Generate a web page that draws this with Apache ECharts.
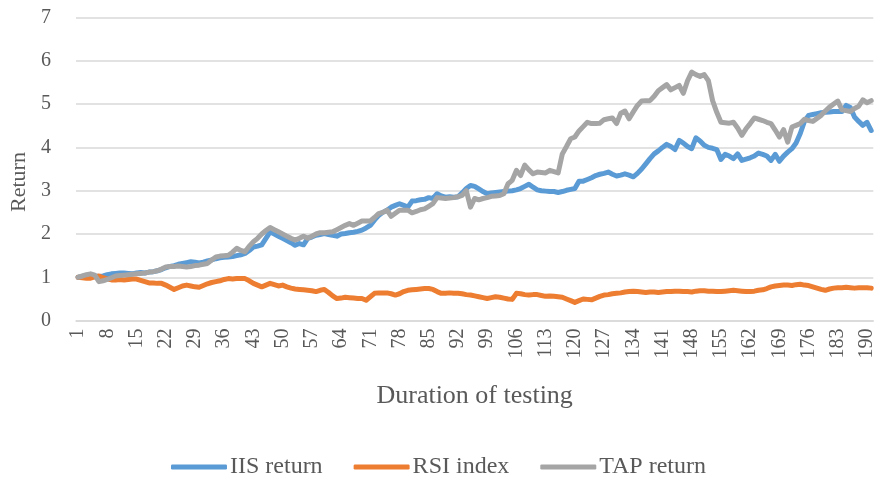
<!DOCTYPE html>
<html>
<head>
<meta charset="utf-8">
<script src="https://cdn.jsdelivr.net/npm/echarts@6/dist/echarts.min.js"></script>
<style>
  html, body { margin: 0; padding: 0; background: #fff; }
  #main { width: 877px; height: 482px; }
</style>
</head>
<body>
<div id="main"></div>
<script>
// 测试天数 1..191
const days = [];
for (let i = 1; i <= 191; i++) days.push(String(i));

const iisReturn = [
  1.00, 1.02, 1.04, 1.05, 1.03, 1.02, 1.03, 1.06, 1.08, 1.09,
  1.10, 1.10, 1.09, 1.08, 1.10, 1.11, 1.10, 1.12, 1.13, 1.15,
  1.18, 1.22, 1.25, 1.27, 1.30, 1.32, 1.34, 1.36, 1.35, 1.33,
  1.35, 1.38, 1.40, 1.43, 1.45, 1.46, 1.47, 1.48, 1.50, 1.52,
  1.55, 1.62, 1.70, 1.72, 1.75, 1.90, 2.05, 2.00, 1.95, 1.90,
  1.85, 1.80, 1.74, 1.78, 1.75, 1.90, 1.93, 1.97, 1.99, 2.01,
  1.99, 1.97, 1.95, 2.00, 2.01, 2.03, 2.04, 2.06, 2.09, 2.14,
  2.20, 2.32, 2.43, 2.50, 2.55, 2.62, 2.66, 2.70, 2.66, 2.62,
  2.76, 2.77, 2.79, 2.80, 2.84, 2.82, 2.93, 2.88, 2.85, 2.86,
  2.85, 2.86, 2.95, 3.05, 3.12, 3.10, 3.04, 2.98, 2.93, 2.95,
  2.96, 2.97, 2.98, 2.99, 3.00, 3.02, 3.05, 3.10, 3.15, 3.08,
  3.02, 3.00, 2.99, 2.98, 2.98, 2.96, 2.98, 3.01, 3.03, 3.05,
  3.22, 3.22, 3.26, 3.30, 3.35, 3.38, 3.40, 3.43, 3.38, 3.34,
  3.36, 3.39, 3.36, 3.32, 3.40, 3.50, 3.62, 3.74, 3.85, 3.92,
  4.00, 4.07, 4.02, 3.95, 4.16, 4.10, 4.02, 3.97, 4.22, 4.15,
  4.05, 4.00, 3.98, 3.95, 3.72, 3.84, 3.80, 3.74, 3.85, 3.70,
  3.73, 3.76, 3.80, 3.87, 3.84, 3.80, 3.70, 3.84, 3.68, 3.80,
  3.89, 3.97, 4.10, 4.32, 4.60, 4.74, 4.76, 4.78, 4.80, 4.81,
  4.82, 4.83, 4.83, 4.83, 4.97, 4.92, 4.70, 4.60, 4.51, 4.58, 4.39
];

const rsiIndex = [
  1.00, 0.99, 0.98, 0.98, 1.01, 1.03, 0.99, 0.96, 0.94, 0.94,
  0.95, 0.94, 0.95, 0.96, 0.96, 0.93, 0.90, 0.87, 0.87, 0.86,
  0.86, 0.82, 0.77, 0.72, 0.76, 0.80, 0.82, 0.80, 0.78, 0.77,
  0.81, 0.85, 0.88, 0.90, 0.92, 0.95, 0.97, 0.96, 0.97, 0.97,
  0.97, 0.92, 0.86, 0.82, 0.78, 0.82, 0.86, 0.83, 0.80, 0.82,
  0.78, 0.75, 0.73, 0.72, 0.71, 0.70, 0.69, 0.67, 0.70, 0.72,
  0.65, 0.57, 0.51, 0.52, 0.54, 0.53, 0.52, 0.51, 0.51, 0.47,
  0.55, 0.63, 0.64, 0.64, 0.64, 0.62, 0.59, 0.62, 0.67, 0.70,
  0.71, 0.72, 0.73, 0.74, 0.74, 0.72, 0.67, 0.63, 0.63, 0.64,
  0.63, 0.63, 0.62, 0.60, 0.59, 0.57, 0.55, 0.53, 0.51, 0.53,
  0.55, 0.54, 0.52, 0.50, 0.49, 0.63, 0.62, 0.60, 0.59, 0.60,
  0.60, 0.58, 0.56, 0.57, 0.56, 0.55, 0.54, 0.50, 0.46, 0.42,
  0.46, 0.50, 0.49, 0.48, 0.52, 0.56, 0.59, 0.60, 0.62, 0.63,
  0.64, 0.66, 0.67, 0.68, 0.67, 0.66, 0.65, 0.66, 0.66, 0.65,
  0.66, 0.67, 0.67, 0.68, 0.68, 0.67, 0.67, 0.66, 0.68, 0.69,
  0.69, 0.68, 0.68, 0.67, 0.67, 0.68, 0.69, 0.70, 0.69, 0.68,
  0.67, 0.67, 0.68, 0.70, 0.71, 0.74, 0.78, 0.80, 0.81, 0.82,
  0.82, 0.81, 0.83, 0.84, 0.82, 0.81, 0.78, 0.75, 0.72, 0.70,
  0.73, 0.75, 0.76, 0.76, 0.77, 0.76, 0.75, 0.76, 0.76, 0.76, 0.75
];

const tapReturn = [
  1.00, 1.03, 1.06, 1.08, 1.05, 0.90, 0.92, 0.95, 0.99, 1.03,
  1.04, 1.05, 1.06, 1.07, 1.08, 1.09, 1.10, 1.12, 1.13, 1.15,
  1.19, 1.24, 1.25, 1.25, 1.26, 1.25, 1.24, 1.25, 1.27, 1.28,
  1.30, 1.32, 1.40, 1.47, 1.49, 1.50, 1.51, 1.58, 1.67, 1.62,
  1.59, 1.72, 1.82, 1.90, 2.00, 2.08, 2.15, 2.10, 2.05, 2.00,
  1.95, 1.90, 1.86, 1.90, 1.95, 1.90, 1.95, 2.00, 2.03, 2.03,
  2.04, 2.05, 2.10, 2.15, 2.20, 2.24, 2.20, 2.25, 2.30, 2.30,
  2.30, 2.38, 2.47, 2.50, 2.55, 2.41, 2.48, 2.55, 2.55, 2.55,
  2.49, 2.52, 2.56, 2.58, 2.64, 2.70, 2.84, 2.83, 2.82, 2.83,
  2.84, 2.86, 2.89, 3.00, 2.62, 2.82, 2.79, 2.82, 2.84, 2.87,
  2.88, 2.89, 2.93, 3.16, 3.24, 3.47, 3.35, 3.59, 3.48, 3.39,
  3.43, 3.42, 3.41, 3.47, 3.44, 3.41, 3.85, 4.02, 4.20, 4.24,
  4.38, 4.48, 4.58, 4.55, 4.55, 4.56, 4.64, 4.66, 4.68, 4.55,
  4.79, 4.84, 4.66, 4.82, 4.97, 5.07, 5.08, 5.08, 5.18, 5.31,
  5.38, 5.45, 5.33, 5.38, 5.43, 5.25, 5.54, 5.74, 5.68, 5.64,
  5.68, 5.54, 5.08, 4.81, 4.58, 4.57, 4.56, 4.58, 4.45, 4.28,
  4.43, 4.55, 4.68, 4.65, 4.62, 4.58, 4.55, 4.40, 4.24, 4.41,
  4.12, 4.47, 4.51, 4.55, 4.65, 4.62, 4.60, 4.67, 4.74, 4.84,
  4.93, 5.00, 5.07, 4.87, 4.85, 4.83, 4.90, 4.95, 5.10, 5.03, 5.08
];

const serif = 'Liberation Serif';
const textColor = '#595959';

const chart = echarts.init(document.getElementById('main'));

function lineSeries(name, data, color) {
  return {
    name: name,
    type: 'line',
    data: data,
    symbol: 'none',
    lineStyle: { width: 5, color: color, cap: 'round', join: 'round' },
    itemStyle: { color: color }
  };
}

const option = {
  animation: false,
  color: ['#5b9bd5', '#ed7d31', '#a5a5a5'],
  grid: { left: 71, right: 3, top: 17.5, bottom: 161.4 },
  legend: {
    left: 'center',
    top: 450,
    icon: 'roundRect',
    itemWidth: 56,
    itemHeight: 5,
    itemGap: 31,
    textStyle: { fontFamily: serif, fontSize: 24, color: textColor, padding: [0, 0, 0, -2] },
    data: ['IIS return', 'RSI index', 'TAP return']
  },
  xAxis: {
    type: 'category',
    data: days,
    boundaryGap: true,
    name: 'Duration of testing',
    nameLocation: 'middle',
    nameGap: 63,
    nameTextStyle: { fontFamily: serif, fontSize: 26, color: textColor },
    axisLine: { lineStyle: { color: '#d9d9d9', width: 1.5 } },
    axisTick: { show: false },
    axisLabel: {
      interval: 6,
      rotate: 90,
      margin: 8,
      fontFamily: serif,
      fontSize: 20,
      color: textColor
    }
  },
  yAxis: {
    type: 'value',
    min: 0,
    max: 7,
    interval: 1,
    name: 'Return',
    nameLocation: 'middle',
    nameGap: 46,
    nameTextStyle: { fontFamily: serif, fontSize: 22, color: textColor, padding: [0, 26, 0, 0] },
    axisLabel: { fontFamily: serif, fontSize: 20, color: textColor, margin: 25 },
    splitLine: { lineStyle: { color: '#d9d9d9', width: 1.5 } },
    axisLine: { show: false },
    axisTick: { show: false }
  },
  series: [
    lineSeries('IIS return', iisReturn, '#5b9bd5'),
    lineSeries('RSI index', rsiIndex, '#ed7d31'),
    lineSeries('TAP return', tapReturn, '#a5a5a5')
  ]
};

chart.setOption(option);
</script>
</body>
</html>
